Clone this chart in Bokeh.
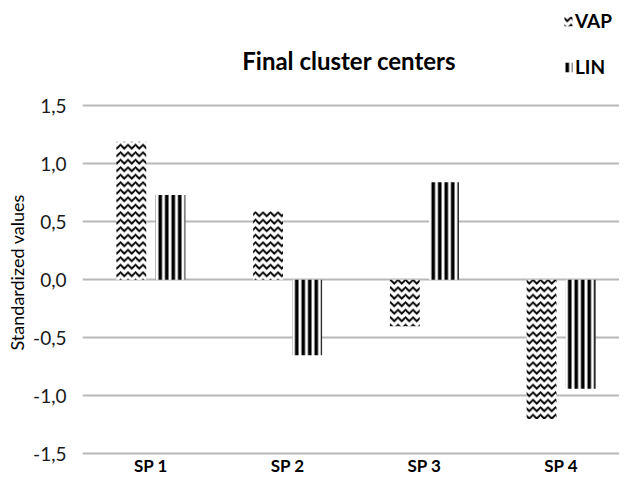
from bokeh.plotting import figure
from bokeh.models import (ColumnDataSource, Range1d, FixedTicker, Legend,
                          LegendItem, Title)
from bokeh.core.properties import value
from bokeh.transform import dodge
from bokeh.embed import file_html
from bokeh.resources import INLINE

# ---- data ----
categories = ["SP 1", "SP 2", "SP 3", "SP 4"]
vap = [1.19, 0.59, -0.40, -1.20]
lin = [0.73, -0.65, 0.84, -0.94]
y_ticks = [-1.5, -1.0, -0.5, 0.0, 0.5, 1.0, 1.5]
series_names = ["VAP", "LIN"]
title_text = "Final cluster centers"
y_label = "Standardized values"

FONT = "Lato"

pos = list(range(len(categories)))
src = ColumnDataSource(dict(x=pos, vap=vap, lin=lin, cat=categories))

p = figure(width=619, height=476, output_backend="svg", toolbar_location=None,
           x_range=Range1d(-0.5, 3.427), y_range=Range1d(-1.696, 2.408),
           x_axis_location=None,
           min_border_left=79, min_border_right=0, min_border_top=0,
           min_border_bottom=0, background_fill_color="white",
           border_fill_color="white", outline_line_color=None)

r_vap = p.vbar(x=dodge("x", -0.143, range=p.x_range), top="vap", width=0.218,
               source=src, fill_color="white", line_color=None,
               hatch_pattern="v", hatch_color="black", hatch_scale=7.5,
               hatch_weight=1.9)
r_lin = p.vbar(x=dodge("x", 0.143, range=p.x_range), top="lin", width=0.218,
               source=src, fill_color="white", line_color=None,
               hatch_pattern="|", hatch_color="black", hatch_scale=6.5,
               hatch_weight=3.6)

# category labels under the plot area
p.text(x="x", y=-1.691, text="cat", source=src, text_align="center",
       text_baseline="bottom", text_font=value(FONT),
       text_font_style="bold", text_font_size="17px", text_color="black")

# title
p.text(x=[1.45], y=[1.89], text=[title_text], text_align="center",
       text_baseline="middle", text_font=value(FONT), text_font_style="bold",
       text_font_size="24px", text_color="black")

# y axis
p.yaxis.ticker = FixedTicker(ticks=y_ticks)
p.yaxis.major_label_overrides = {t: f"{t:.1f}".replace(".", ",") for t in y_ticks}
p.yaxis.axis_line_color = None
p.yaxis.major_tick_line_color = None
p.yaxis.minor_tick_line_color = None
p.yaxis.major_tick_out = 0
p.yaxis.major_tick_in = 0
p.yaxis.minor_tick_out = 0
p.yaxis.minor_tick_in = 0
p.yaxis.major_label_text_font = FONT
p.yaxis.major_label_text_font_size = "19px"
p.yaxis.major_label_text_color = "#1a1a1a"
p.yaxis.major_label_standoff = 16

# y axis title (left panel, starting beside the lower part of the grid)
p.add_layout(Title(text=y_label, align="left", offset=126, standoff=6,
                   text_font=FONT, text_font_style="normal",
                   text_font_size="18px", text_color="black"), "left")

p.xgrid.grid_line_color = None
p.ygrid.ticker = FixedTicker(ticks=y_ticks)
p.ygrid.grid_line_color = "#b8b8b8"
p.ygrid.grid_line_width = 2

# legend
legend = Legend(items=[LegendItem(label=series_names[0], renderers=[r_vap]),
                       LegendItem(label=series_names[1], renderers=[r_lin])],
                location=(481, 398), orientation="vertical",
                glyph_width=10, glyph_height=12, label_standoff=2,
                spacing=23, padding=0, margin=0,
                border_line_color=None, background_fill_alpha=0,
                label_text_font=FONT, label_text_font_style="bold",
                label_text_font_size="19px", label_text_color="black")
p.add_layout(legend)

open("out.html", "w").write(file_html(p, INLINE))
